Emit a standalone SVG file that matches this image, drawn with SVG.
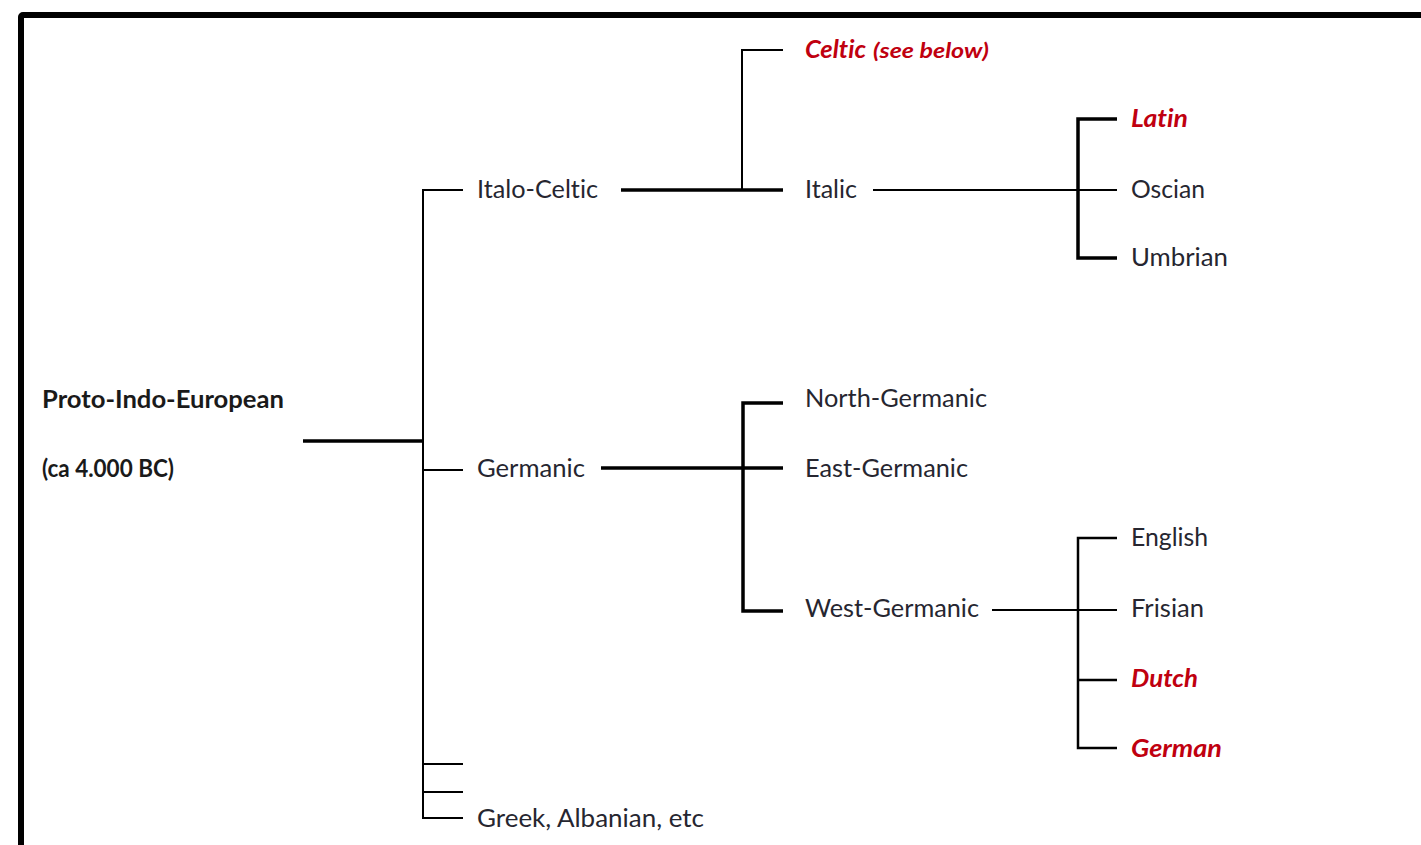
<svg xmlns="http://www.w3.org/2000/svg" width="1421" height="845" viewBox="0 0 1421 845">
  <style>
    .lbl { font-family: Lato, "Open Sans", sans-serif; font-size: 25px; fill: #262630; font-variant-ligatures: none; font-feature-settings: "liga" 0, "dlig" 0; }
    .root { font-weight: bold; fill: #1a1a1a; }
    .hl { font-weight: bold; font-style: italic; fill: #c0000f; }
    .note { font-size: 21px; }
    .ln { stroke: #000; stroke-width: 2; fill: none; }
    .lnb { stroke: #000; stroke-width: 3.5; fill: none; }
  </style>
  <rect width="1421" height="845" fill="#fff"/>
  <!-- outer frame -->
  <rect x="21" y="15" width="1440" height="870" rx="2" fill="none" stroke="#000" stroke-width="6"/>

  <g id="connectors">
    <!-- Proto-Indo-European split -->
    <line class="lnb" x1="303" y1="441" x2="424" y2="441"/>
    <path class="ln" d="M463 190 H423 V818 H463"/>
    <line class="ln" x1="423" y1="470" x2="463" y2="470"/>
    <line class="ln" x1="423" y1="764" x2="463" y2="764"/>
    <line class="ln" x1="423" y1="792" x2="463" y2="792"/>
    <!-- Italo-Celtic split -->
    <line class="lnb" x1="621" y1="190" x2="783" y2="190"/>
    <path class="ln" d="M783 50 H742 V190"/>
    <!-- Italic split -->
    <line class="ln" x1="873" y1="190" x2="1117" y2="190"/>
    <path class="lnb" d="M1117 119 H1078 V258 H1117"/>
    <!-- Germanic split -->
    <line class="lnb" x1="601" y1="468" x2="783" y2="468"/>
    <path class="lnb" d="M783 403 H743 V611 H783"/>
    <!-- West-Germanic split -->
    <line class="ln" x1="992" y1="610" x2="1117" y2="610"/>
    <path class="lnb" d="M1117 538 H1078 V748 H1117" style="stroke-width:2.5"/>
    <line class="ln" x1="1078" y1="680" x2="1117" y2="680" style="stroke-width:2.5"/>
  </g>

  <g id="node-pie">
    <text class="lbl root" x="42" y="408" textLength="242" lengthAdjust="spacingAndGlyphs">Proto-Indo-European</text>
    <text class="lbl root" x="42" y="477" font-size="22" textLength="132" lengthAdjust="spacingAndGlyphs">(ca 4.000 BC)</text>
  </g>
  <g id="node-italo-celtic"><text class="lbl" x="477" y="198" textLength="121" lengthAdjust="spacingAndGlyphs">Italo-Celtic</text></g>
  <g id="node-celtic">
    <text class="lbl hl" x="805" y="58" textLength="61" lengthAdjust="spacingAndGlyphs">Celtic</text>
    <text class="lbl hl note" x="873" y="58" textLength="116" lengthAdjust="spacingAndGlyphs">(see below)</text>
  </g>
  <g id="node-italic"><text class="lbl" x="805" y="198" textLength="52" lengthAdjust="spacingAndGlyphs">Italic</text></g>
  <g id="node-latin"><text class="lbl hl" x="1131" y="127" textLength="57" lengthAdjust="spacingAndGlyphs">Latin</text></g>
  <g id="node-oscian"><text class="lbl" x="1131" y="198" textLength="74" lengthAdjust="spacingAndGlyphs">Oscian</text></g>
  <g id="node-umbrian"><text class="lbl" x="1131" y="266" textLength="97" lengthAdjust="spacingAndGlyphs">Umbrian</text></g>
  <g id="node-germanic"><text class="lbl" x="477" y="477" textLength="108" lengthAdjust="spacingAndGlyphs">Germanic</text></g>
  <g id="node-north-germanic"><text class="lbl" x="805" y="407" textLength="182" lengthAdjust="spacingAndGlyphs">North-Germanic</text></g>
  <g id="node-east-germanic"><text class="lbl" x="805" y="477" textLength="163" lengthAdjust="spacingAndGlyphs">East-Germanic</text></g>
  <g id="node-west-germanic"><text class="lbl" x="805" y="617" textLength="174" lengthAdjust="spacingAndGlyphs">West-Germanic</text></g>
  <g id="node-english"><text class="lbl" x="1131" y="546" textLength="77" lengthAdjust="spacingAndGlyphs">English</text></g>
  <g id="node-frisian"><text class="lbl" x="1131" y="617" textLength="73" lengthAdjust="spacingAndGlyphs">Frisian</text></g>
  <g id="node-dutch"><text class="lbl hl" x="1131" y="687" textLength="67" lengthAdjust="spacingAndGlyphs">Dutch</text></g>
  <g id="node-german"><text class="lbl hl" x="1131" y="757" textLength="91" lengthAdjust="spacingAndGlyphs">German</text></g>
  <g id="node-greek"><text class="lbl" x="477" y="827" textLength="227" lengthAdjust="spacingAndGlyphs">Greek, Albanian, etc</text></g>
</svg>
